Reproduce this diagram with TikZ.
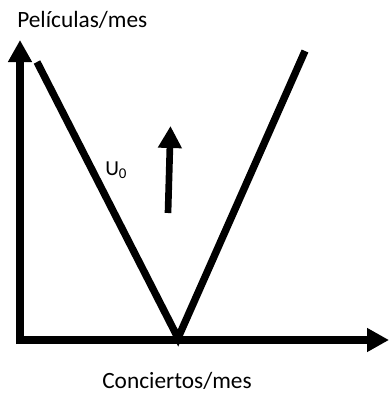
\documentclass[tikz,border=0pt]{standalone}
\usepackage{fontspec}
\setmainfont{Carlito}
\usepackage{tikz}
\usetikzlibrary{positioning,arrows.meta,calc}

\tikzset{
  axis/.style={line width=6pt, -{Triangle[length=16.5pt, width=17pt]}},
  curve/.style={line width=5.5pt},
  label/.style={font=\fontsize{17.5}{21}\selectfont, inner sep=0pt},
}

\begin{document}
\begin{tikzpicture}[x=0.75pt, y=-0.75pt]
        \useasboundingbox (0,0) rectangle (389,400);
        \coordinate (origin) at (20,340);
        \coordinate (ytop) at (20,40);
        \coordinate (xend) at (389,340);
        \coordinate (vleft) at (37,62);
        \coordinate (vtip) at (178,338);
        \coordinate (vright) at (305,51);
        \coordinate (dirfrom) at (168,213);
        \coordinate (dirto) at (170.5,126);

        \draw[axis] ([yshift=-3pt]origin) -- (ytop);
        \draw[axis] (origin) -- (xend);
        \draw[curve] (vleft) -- (vtip) -- (vright);
        \draw[axis, line width=5pt] (dirfrom) -- (dirto);

        \node[label, anchor=base west] (ylab) at (17,27.5) {Películas/mes};
        \node[label, anchor=base] (xlab) at (177,388) {Conciertos/mes};
        \node[label, anchor=base west, font=\fontsize{16}{19}\selectfont] (u0) at (105,175) {U\textsubscript{0}};
    \end{tikzpicture}
\end{document}
